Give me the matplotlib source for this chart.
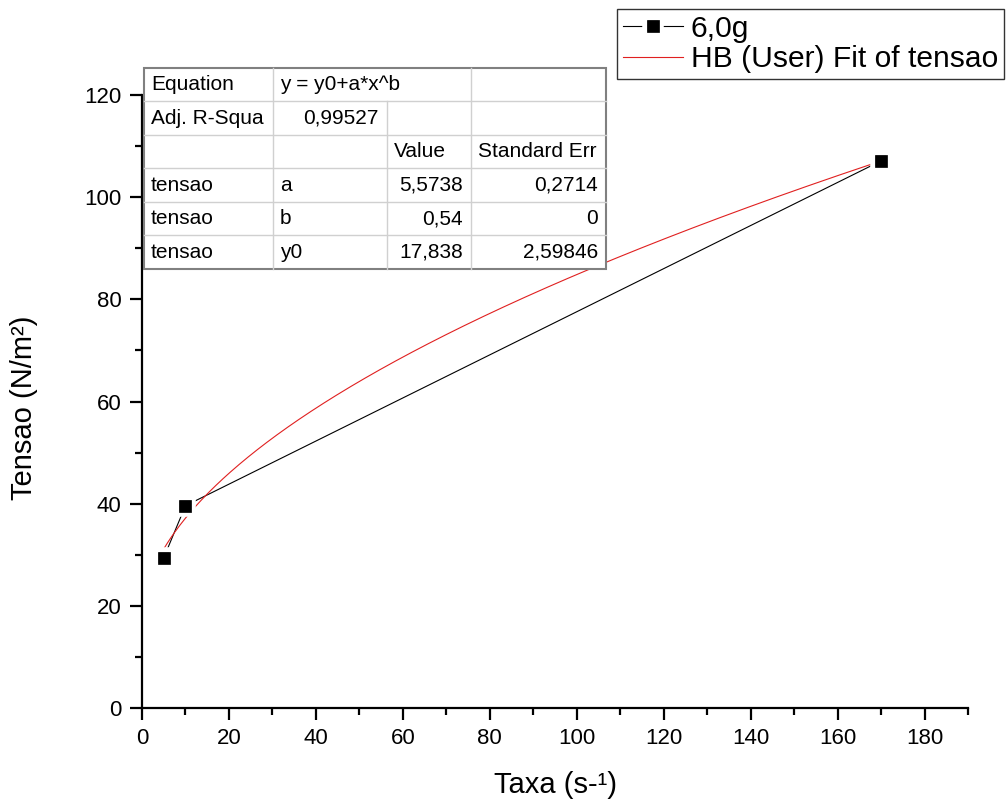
import numpy as np
import matplotlib
matplotlib.use("Agg")
import matplotlib.pyplot as plt
from matplotlib.lines import Line2D
from matplotlib.patches import Rectangle

plt.rcParams['font.family'] = ['Liberation Sans', 'DejaVu Sans']

# Data
taxa = [5, 10, 170]
tensao = [29.4, 39.6, 107.1]
series_label = "6,0g"
fit_label = "HB (User) Fit of tensao"

# Fit parameters (from table)
fit_a = 5.5738
fit_b = 0.54
fit_y0 = 17.838

table_rows = [
    ["Equation", "y = y0+a*x^b", "", ""],
    ["Adj. R-Squa", "0,99527", "", ""],
    ["", "", "Value", "Standard Err"],
    ["tensao", "a", "5,5738", "0,2714"],
    ["tensao", "b", "0,54", "0"],
    ["tensao", "y0", "17,838", "2,59846"],
]

xlabel = "Taxa (s-¹)"
ylabel = "Tensao (N/m²)"

fig = plt.figure(figsize=(10.06, 8.05), dpi=100)
W, H = 1006, 805
L, R, B, T = 142, 968, 708, 95
ax = fig.add_axes([L / W, (H - B) / H, (R - L) / W, (B - T) / H])

xf = np.linspace(taxa[0], taxa[-1], 400)
yf = fit_y0 + fit_a * xf ** fit_b
ax.plot(taxa, tensao, color='black', lw=0.8, zorder=2)
ax.plot(xf, yf, color='#e02020', lw=0.8, zorder=3)
ax.plot(taxa, tensao, ls='none', marker='s', ms=12, mfc='black', mec='white', mew=4, zorder=4)
ax.plot(taxa, tensao, ls='none', marker='s', ms=8, mfc='black', mec='black', mew=0.5, zorder=5)

ax.set_xlim(0, 190)
ax.set_ylim(0, 120)
ax.set_xticks(np.arange(0, 181, 20))
ax.set_xticks(np.arange(10, 191, 20), minor=True)
ax.set_yticks(np.arange(0, 121, 20))
ax.set_yticks(np.arange(10, 120, 20), minor=True)
for s in ['top', 'right']:
    ax.spines[s].set_visible(False)
for s in ['left', 'bottom']:
    ax.spines[s].set_linewidth(1.6)
ax.tick_params(which='major', direction='out', length=8.6, width=1.6, labelsize=16, pad=6)
ax.tick_params(which='minor', direction='out', length=5, width=1.6)
ax.set_xlabel(xlabel, fontsize=21)
ax.set_ylabel(ylabel, fontsize=21)
ax.xaxis.set_label_coords(0.501, (B - 771) / (B - T))
ax.yaxis.set_label_coords((38 - L) / (R - L), (B - 408) / (B - T))

# Table drawn in figure pixel coordinates
col_edges = [144, 273, 387, 471, 606]
tab_top, tab_bot = 68, 269
row_h = (tab_bot - tab_top) / 6.0

def fx(px):
    return px / W

def fy(py):
    return 1 - py / H

fig.patches.append(Rectangle((fx(col_edges[0]), fy(tab_bot)), fx(col_edges[-1]) - fx(col_edges[0]),
                             fy(tab_top) - fy(tab_bot), transform=fig.transFigure, facecolor='white',
                             edgecolor='#808080', lw=1.5, zorder=10))
inner = '#d0d0d0'
for i in range(1, 6):
    y = tab_top + i * row_h
    fig.add_artist(Line2D([fx(col_edges[0]), fx(col_edges[-1])], [fy(y), fy(y)], color=inner, lw=1, zorder=11))
for j in range(1, 4):
    start_row = 1 if j == 2 else 0
    fig.add_artist(Line2D([fx(col_edges[j]), fx(col_edges[j])], [fy(tab_top + start_row * row_h), fy(tab_bot)],
                          color=inner, lw=1, zorder=11))

right_align = {(1, 1), (3, 2), (3, 3), (4, 2), (4, 3), (5, 2), (5, 3)}
for i, row in enumerate(table_rows):
    yc = tab_top + (i + 0.5) * row_h
    for j, txt in enumerate(row):
        if not txt:
            continue
        if (i, j) in right_align:
            x = col_edges[j + 1] - 8
            ha = 'right'
        else:
            x = col_edges[j] + 7
            ha = 'left'
        fig.text(fx(x), fy(yc), txt, ha=ha, va='center', fontsize=15, zorder=12)

h1 = (Line2D([], [], color='black', lw=0.8),
      Line2D([], [], ls='none', marker='s', ms=12, mfc='black', mec='white', mew=4),
      Line2D([], [], ls='none', marker='s', ms=8, mfc='black', mec='black', mew=0.5))
h2 = Line2D([], [], color='#e02020', lw=0.8)
leg = fig.legend([h1, h2], [series_label, fit_label], loc='upper right',
                 bbox_to_anchor=(1004 / W, 1 - 9 / H), fontsize=21.6, frameon=True,
                 fancybox=False, edgecolor='black', handlelength=2.0, handletextpad=0.25,
                 borderpad=0.2, labelspacing=0.08, borderaxespad=0)
leg.get_frame().set_linewidth(1.0)

fig.savefig("out.png", dpi=100)
